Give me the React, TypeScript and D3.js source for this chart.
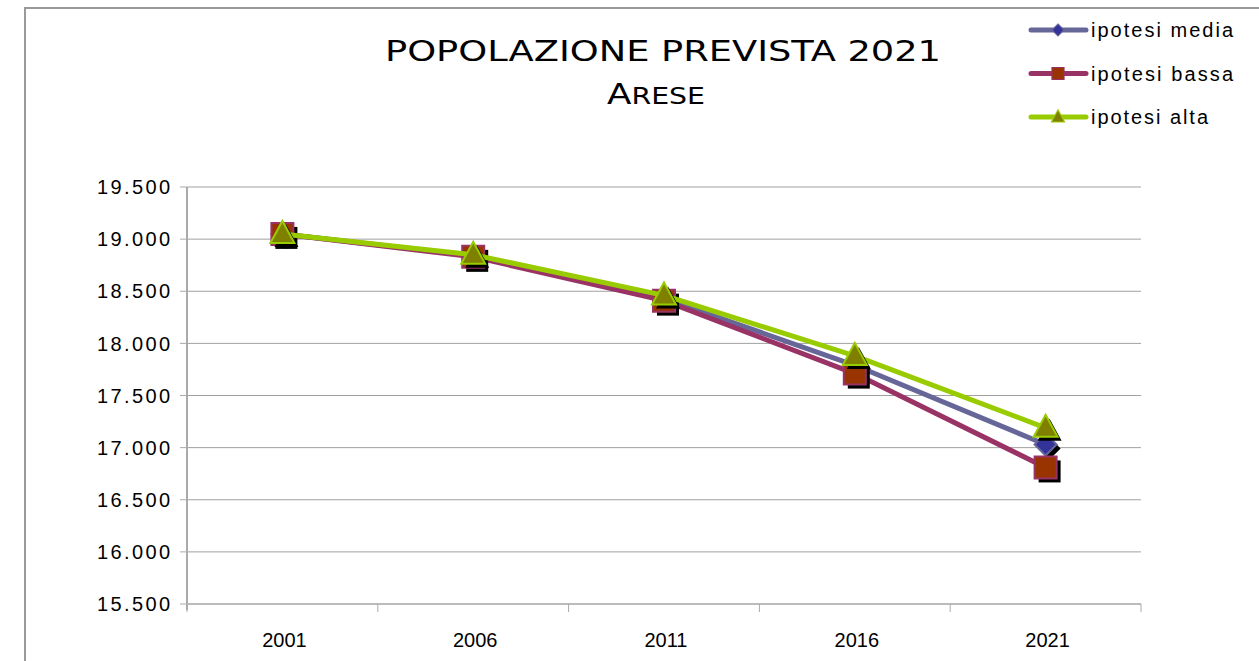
// Popolazione prevista 2021 - Arese
import * as d3 from 'd3'

const years = ['2001', '2006', '2011', '2016', '2021']
const media = [19050, 18840, 18430, 17790, 17030]
const bassa = [19050, 18830, 18410, 17710, 16810]
const alta = [19050, 18850, 18460, 17880, 17190]
const yTicks = [15500, 16000, 16500, 17000, 17500, 18000, 18500, 19000, 19500]

type Shape = 'diamond' | 'square' | 'triangle'
const series: { name: string; values: number[]; line: string; fill: string; stroke: string; shape: Shape; legendWidth: number }[] = [
  { name: 'ipotesi media', values: media, line: '#666699', fill: '#333399', stroke: '#666699', shape: 'diamond', legendWidth: 142 },
  { name: 'ipotesi bassa', values: bassa, line: '#993366', fill: '#993300', stroke: '#993366', shape: 'square', legendWidth: 142 },
  { name: 'ipotesi alta', values: alta, line: '#99CC00', fill: '#808000', stroke: '#99CC00', shape: 'triangle', legendWidth: 117 },
]

const W = 1259
const H = 661
const left = 187
const right = 1141
const top = 187
const bottom = 604
const labelFont = '"Liberation Sans", Arial, sans-serif'

function markerPath(shape: Shape, cx: number, cy: number) {
  if (shape === 'square') return `M${cx - 11},${cy - 11}h22v22h-22Z`
  if (shape === 'diamond') return `M${cx},${cy - 11}L${cx + 11},${cy}L${cx},${cy + 11}L${cx - 11},${cy}Z`
  return `M${cx},${cy - 13}L${cx + 12},${cy + 9}L${cx - 12},${cy + 9}Z`
}

export default function App() {
  const x = d3.scaleBand<string>().domain(years).range([left, right])
  const y = d3.scaleLinear().domain([15500, 19500]).range([bottom, top])
  const cx = (yr: string) => (x(yr) ?? 0) + x.bandwidth() / 2

  const line = d3.line<number>()
    .x((_, i) => cx(years[i]))
    .y(d => y(d))

  const boundaries = years.map(yr => x(yr) ?? 0).concat([right])

  return (
    <svg width={W} height={H} style={{ position: 'absolute', left: 0, top: 0, background: '#fff' }}>
      {/* outer chart border */}
      <path d={`M25,${H + 5}V8H${W + 5}`} fill="none" stroke="#999" strokeWidth={2} />

      {/* title */}
      <text x={663} y={61} textAnchor="middle" fontFamily='"DejaVu Sans Condensed", "DejaVu Sans", sans-serif'
        fontWeight={300} fontSize={29} textLength={556} lengthAdjust="spacingAndGlyphs" fill="#000">
        POPOLAZIONE PREVISTA 2021
      </text>
      <text x={656} y={104} textAnchor="middle" fontFamily='"DejaVu Sans Condensed", "DejaVu Sans", sans-serif'
        fontWeight={300} fill="#000" textLength={98} lengthAdjust="spacingAndGlyphs">
        <tspan fontSize={29}>A</tspan><tspan fontSize={23}>RESE</tspan>
      </text>

      {/* gridlines */}
      {yTicks.map(t => (
        <line key={t} x1={left} x2={right} y1={y(t)} y2={y(t)} stroke="#a0a0a0" strokeWidth={1} />
      ))}

      {/* y axis */}
      <line x1={left} x2={left} y1={top} y2={bottom + 6} stroke="#aaa" strokeWidth={2} />
      {yTicks.map(t => (
        <g key={'yt' + t}>
          <line x1={left - 7} x2={left} y1={y(t)} y2={y(t)} stroke="#aaa" strokeWidth={1} />
          <text x={170} y={y(t)} dy="0.36em" textAnchor="end" fontFamily={labelFont} fontSize={20}
            textLength={73} lengthAdjust="spacing" fill="#000">
            {d3.format(',')(t).replace(',', '.')}
          </text>
        </g>
      ))}

      {/* x axis */}
      <line x1={left} x2={right} y1={bottom} y2={bottom} stroke="#bbb" strokeWidth={2} />
      {boundaries.map((b, i) => (
        <line key={'xt' + i} x1={b} x2={b} y1={bottom} y2={bottom + 8} stroke="#aaa" strokeWidth={1} />
      ))}
      {years.map(yr => (
        <text key={yr} x={cx(yr) + 2} y={640} dy="0.36em" textAnchor="middle" fontFamily={labelFont}
          fontSize={20} fill="#000">
          {yr}
        </text>
      ))}

      {/* series */}
      {series.map(s => (
        <g key={s.name}>
          <path d={line(s.values) ?? ''} fill="none" stroke={s.line} strokeWidth={5} strokeLinejoin="round" />
          {s.values.map((v, i) => (
            <g key={i}>
              <path d={markerPath(s.shape, cx(years[i]) + 4, y(v) + 4)} fill="#000" />
              <path d={markerPath(s.shape, cx(years[i]), y(v))} fill={s.fill} stroke={s.stroke} strokeWidth={2} />
            </g>
          ))}
        </g>
      ))}

      {/* legend */}
      {series.map((s, i) => {
        const ly = 30 + i * 43.5
        return (
          <g key={'lg' + s.name}>
            <line x1={1031} x2={1086} y1={ly} y2={ly} stroke={s.line} strokeWidth={5} strokeLinecap="round" />
            <g transform={`translate(1058,${ly}) scale(0.55) translate(-1058,${-ly})`}>
              <path d={markerPath(s.shape, 1058, ly)} fill={s.fill} stroke={s.stroke} strokeWidth={2} />
            </g>
            <text x={1091} y={ly} dy="0.36em" fontFamily={labelFont} fontSize={20} fill="#000"
              textLength={s.legendWidth} lengthAdjust="spacing">
              {s.name}
            </text>
          </g>
        )
      })}
    </svg>
  )
}
